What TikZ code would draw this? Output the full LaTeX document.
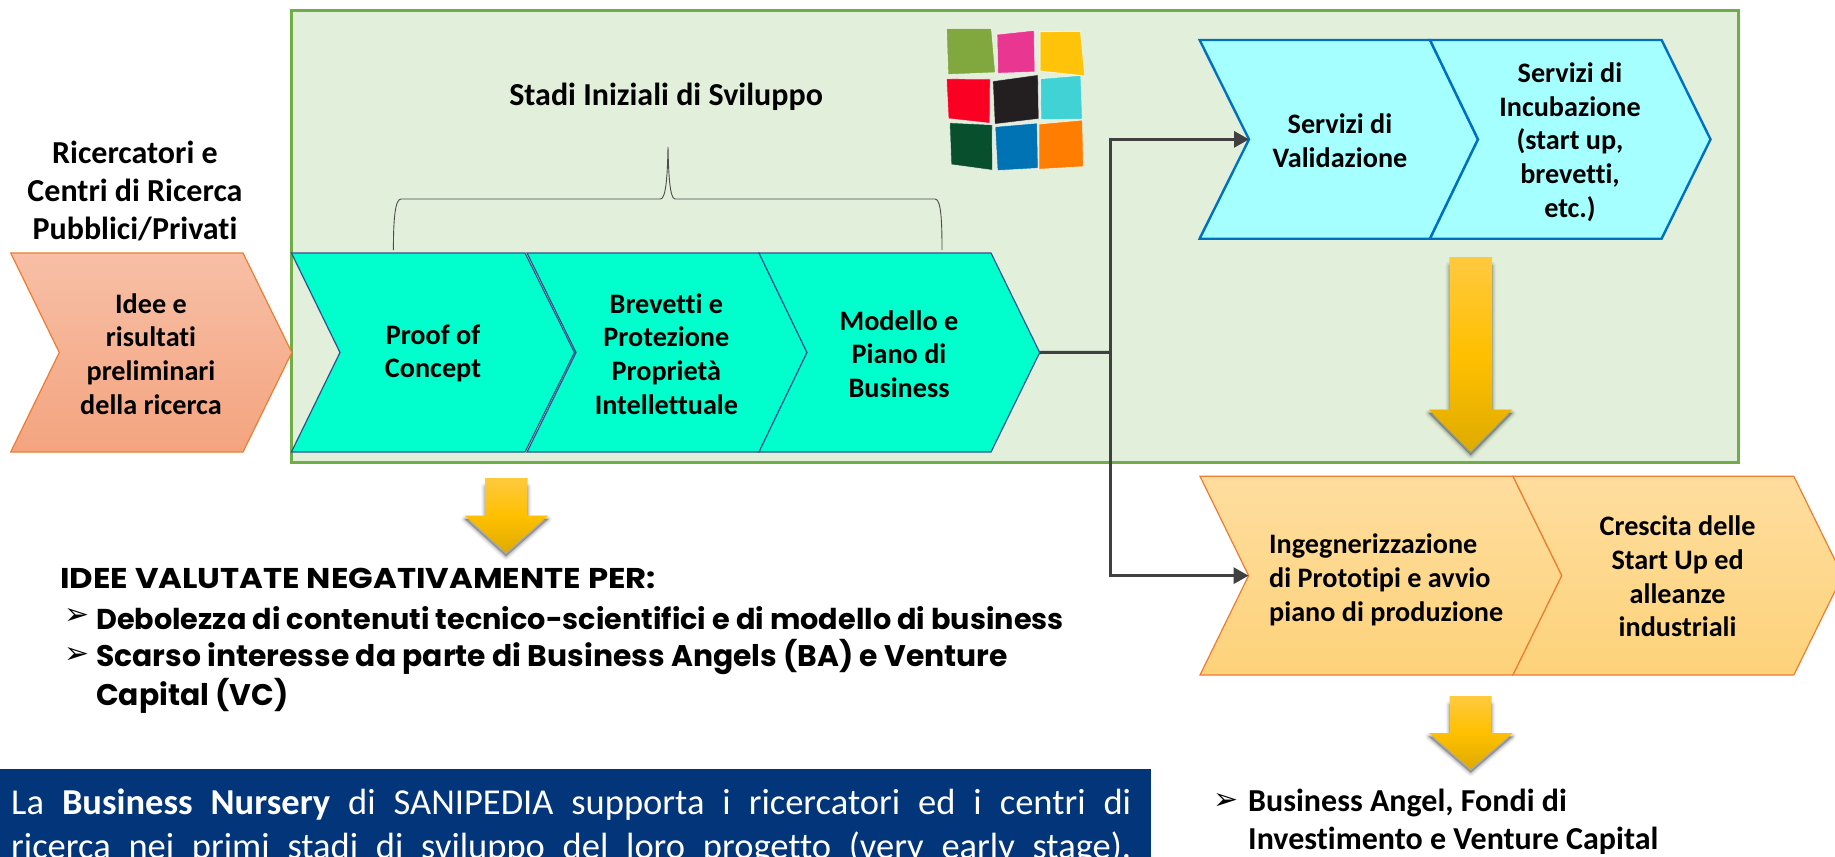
\documentclass[tikz,border=0pt]{standalone}
\usepackage{fontspec}
\setmainfont[Ligatures=NoCommon]{Carlito}
\newfontfamily\techfont{Poppins}
\newfontfamily\techwide[FakeStretch=1.13]{Poppins}
\newfontfamily\symfont{DejaVu Sans}
\usetikzlibrary{arrows.meta}
\definecolor{boxgreen}{HTML}{E2EFDA}
\definecolor{boxedge}{HTML}{70AD47}
\definecolor{mint}{HTML}{00FFCC}
\definecolor{mintedge}{HTML}{2F528F}
\definecolor{sky}{HTML}{A6FFFF}
\definecolor{skyedge}{HTML}{0070C0}
\definecolor{peachA}{HTML}{F7BFA6}
\definecolor{peachB}{HTML}{F4A47F}
\definecolor{sandA}{HTML}{FEDD9E}
\definecolor{sandB}{HTML}{FDD27A}
\definecolor{orangeedge}{HTML}{ED7D31}
\definecolor{navy}{HTML}{03357A}
\definecolor{linkgrey}{HTML}{404040}
\definecolor{goldA}{HTML}{FFC93F}
\definecolor{goldB}{HTML}{FFC000}
\definecolor{goldC}{HTML}{DFAB00}
\tikzset{
  chevmint/.style={fill=mint,draw=mintedge,line width=1.2pt,line join=miter},
  chevsky/.style={fill=sky,draw=skyedge,line width=2.4pt,line join=miter},
  chevpeach/.style={top color=peachA,bottom color=peachB,draw=orangeedge,line width=1.2pt},
  chevsand/.style={top color=sandA,bottom color=sandB,draw=orangeedge,line width=1.2pt},
  lbl/.style={font=\fontsize{28.2}{33.7}\selectfont\bfseries,align=center,inner sep=0pt,text=black},
  lblbig/.style={font=\fontsize{32}{38}\selectfont\bfseries,align=center,inner sep=0pt,text=black},
  tech/.style={font=\techfont\fontsize{28.7}{39}\selectfont\bfseries,anchor=west,inner sep=0pt,text=black},
  techb/.style={font=\techfont\fontsize{29.8}{39}\selectfont\bfseries,anchor=west,inner sep=0pt,text=black},
  techhead/.style={font=\techwide\fontsize{28.6}{39}\selectfont\bfseries,anchor=west,inner sep=0pt,text=black},
  bulletmark/.style={anchor=west,inner sep=0pt,text=black,font=\symfont\fontsize{30}{30}\selectfont},
  navytext/.style={anchor=base west,inner sep=0pt,text=white,font=\fontsize{36.5}{45}\selectfont},
  link/.style={draw=linkgrey,line width=3pt,line join=miter},
  linkarrow/.style={link,-{Triangle[length=15pt,width=16pt]}},
  brace/.style={draw=black!70,line width=0.9pt},
  gold/.style={top color=goldA,bottom color=goldC,middle color=goldB,draw=none}
}
% name, left, notch, shoulder, tip, top, bottom, style
\newcommand{\chevronshape}[8]{%
  \pgfmathsetmacro{\midy}{(#6+#7)/2}%
  \path[#8] (#2,#6) -- (#4,#6) -- (#5,\midy) -- (#4,#7) -- (#2,#7) -- (#3,\midy) -- cycle;
  \coordinate (#1-tip) at (#5,\midy);
  \coordinate (#1-notch) at (#3,\midy);
}
% xl shaft, xr shaft, top, head y, head xl, head xr, tip x, tip y
\newcommand{\goldarrow}[8]{%
  \foreach \w/\o in {8/0.04,5.5/0.06,3.5/0.08,1.5/0.10}{%
    \begin{scope}[yshift=-3.5pt]
    \path[fill=black,draw=black,opacity=\o,line width=\w pt,line join=round]
      (#1,#3+5) -- (#1,#4) -- (#5,#4) -- (#7,#8) -- (#6,#4) -- (#2,#4) -- (#2,#3+5) -- cycle;
    \end{scope}
  }%
  \path[gold] (#1,#3) -- (#1,#4) -- (#5,#4) -- (#7,#8) -- (#6,#4) -- (#2,#4) -- (#2,#3) -- cycle;
}
\begin{document}
\begin{tikzpicture}[x=1pt,y=-1pt]
\useasboundingbox (0,0) rectangle (1835,856);
\fill[white] (0,0) rectangle (1835,856);

% green panel
\path[fill=boxgreen,draw=boxedge,line width=3pt] (291.4,10.7) rectangle (1738,462.7);

% logo
\begin{scope}[shift={(600,0)},x=0.3954pt,y=-0.3333pt]
\tikzset{tile/.style={draw=white,draw opacity=.65,line width=.9pt}}
\path[tile,fill={rgb,255:red,128;green,168;blue,62}] (876,85)--(990,85)--(1000,218)--(880,224)--cycle;
\path[tile,fill={rgb,255:red,233;green,54;blue,145}] (1004,103)--(1098,91)--(1100,216)--(1006,220)--cycle;
\path[tile,fill={rgb,255:red,255;green,195;blue,10}] (1113,95)--(1215,94)--(1226,228)--(1113,213)--cycle;
\path[tile,fill={rgb,255:red,250;green,0;blue,35}] (876,236)--(987,237)--(986,370)--(881,356)--cycle;
\path[tile,fill={rgb,255:red,35;green,31;blue,32}] (993,243)--(1108,224)--(1110,357)--(998,373)--cycle;
\path[tile,fill={rgb,255:red,64;green,210;blue,212}] (1114,236)--(1216,226)--(1220,358)--(1115,359)--cycle;
\path[tile,fill={rgb,255:red,8;green,80;blue,45}] (884,368)--(992,374)--(993,511)--(888,494)--cycle;
\path[tile,fill={rgb,255:red,0;green,115;blue,180}] (999,380)--(1106,369)--(1108,505)--(1005,512)--cycle;
\path[tile,fill={rgb,255:red,255;green,125;blue,0}] (1110,372)--(1220,360)--(1223,500)--(1110,508)--cycle;
\end{scope}

% chevrons
\chevronshape{idee}{10.7}{59.3}{243}{291.8}{253}{452}{chevpeach}
\chevronshape{proof}{291.4}{340}{525}{574.5}{253}{452}{chevmint}
\chevronshape{brev}{527}{576}{759}{807}{253}{452}{chevmint}
\chevronshape{piano}{759}{807}{991}{1039.7}{253}{452}{chevmint}
\chevronshape{valid}{1199.6}{1249}{1430}{1478}{40}{238.7}{chevsky}
\chevronshape{incub}{1430}{1478}{1661.6}{1710.5}{40}{238.7}{chevsky}
\chevronshape{proto}{1200}{1248.6}{1513}{1561.8}{476.3}{675}{chevsand}
\chevronshape{cresc}{1513}{1561.8}{1793.8}{1842.6}{476.3}{675}{chevsand}

% brace
\path[brace] (393.4,250) .. controls (393.4,220) and (395,199) .. (401,199) -- (660.5,199)
  .. controls (666,199) and (667.5,175) .. (668,147) .. controls (668.5,175) and (670,199) .. (675,199)
  -- (935,199) .. controls (941,199) and (942,220) .. (942,250);

% connectors
\coordinate (junction) at (1110,352.3);
\draw[link] (piano-tip) -- (junction);
\draw[linkarrow] (junction) |- (valid-notch);
\draw[linkarrow] (junction) |- (proto-notch);

% gold arrows
\goldarrow{1449.4}{1492}{257}{409.7}{1429}{1512}{1470.7}{451.7}
\goldarrow{485}{527.5}{478}{515.7}{465}{548}{506}{552.7}
\goldarrow{1449.7}{1491.5}{696}{733}{1429}{1512.6}{1470.7}{769}

% labels
\node[lblbig] (stadi) at (666,97) {Stadi Iniziali di Sviluppo};
\node[lblbig] (ricerc) at (135,191) {Ricercatori e\\Centri di Ricerca\\Pubblici/Privati};
\node[lbl] (ideet) at (151,354) {Idee e\\risultati\\preliminari\\della ricerca};
\node[lbl] (prooft) at (433,353.5) {Proof of\\Concept};
\node[lbl] (brevt) at (666.4,354) {Brevetti e\\Protezione\\Proprietà\\Intellettuale};
\node[lbl] (pianot) at (899,354) {Modello e\\Piano di\\Business};
\node[lbl] (validt) at (1340,141) {Servizi di\\Validazione};
\node[lbl] (incubt) at (1570,142) {Servizi di\\Incubazione\\(start up,\\brevetti,\\etc.)};
\node[lbl,align=left,anchor=west] (protot) at (1269,580) {Ingegnerizzazione\\di Prototipi e avvio\\piano di produzione};
\node[lbl] (crest) at (1677.6,576.5) {Crescita delle\\Start Up ed\\alleanze\\industriali};

% left list
\node[techhead] (head) at (60,578) {IDEE VALUTATE NEGATIVAMENTE PER:};
\node[bulletmark] (b1) at (64,616) {➢};
\node[tech] (l1) at (96,618) {Debolezza di contenuti tecnico-scientifici e di modello di business};
\node[bulletmark] (b2) at (64,655) {➢};
\node[techb] (l2) at (96,657) {Scarso interesse da parte di Business Angels (BA) e Venture};
\node[techb] (l3) at (96,696) {Capital (VC)};

% right list
\node[bulletmark] (b3) at (1213,801) {➢};
\node[lblbig,align=left,anchor=west] (fondi) at (1248,821.5) {Business Angel, Fondi di\\Investimento e Venture Capital};

% navy box
\begin{scope}
\clip (0,0) rectangle (1835,856);
\fill[navy] (0,769) rectangle (1151,870);
\node[navytext] (nursery1) at (11,814)
 {\makebox[1120pt][s]{La \textbf{Business Nursery} di SANIPEDIA supporta i ricercatori ed i centri di}};
\node[navytext] (nursery2) at (11,858)
 {\makebox[1120pt][s]{ricerca nei primi stadi di sviluppo del loro progetto (very early stage).}};
\end{scope}
\end{tikzpicture}
\end{document}
